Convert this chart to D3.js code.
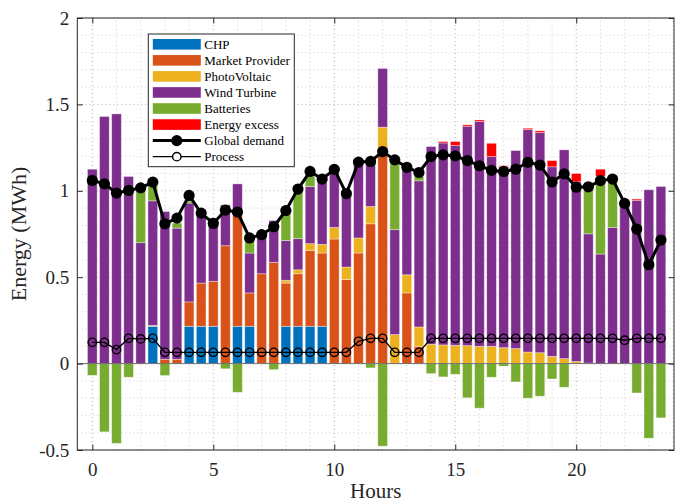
<!DOCTYPE html>
<html>
<head>
<meta charset="utf-8">
<script src="https://cdn.jsdelivr.net/npm/d3@7"></script>
<style>
  body { margin: 0; background: #fff; }
  svg { display: block; font-family: "Liberation Serif", "Times New Roman", serif; }
</style>
</head>
<body>
<svg id="chart" width="675" height="504"></svg>
<script>
// half-hour time steps
const hours = [0, 0.5, 1, 1.5, 2, 2.5, 3, 3.5, 4, 4.5, 5, 5.5, 6, 6.5, 7, 7.5,
  8, 8.5, 9, 9.5, 10, 10.5, 11, 11.5, 12, 12.5, 13, 13.5, 14, 14.5, 15, 15.5,
  16, 16.5, 17, 17.5, 18, 18.5, 19, 19.5, 20, 20.5, 21, 21.5, 22, 22.5, 23, 23.5];

// stacked components (MWh)
const chp = [0, 0, 0, 0, 0, 0.216, 0, 0, 0.216, 0.216, 0.216, 0, 0.216, 0.216, 0, 0,
  0.216, 0.216, 0.216, 0.216, 0, 0, 0, 0, 0, 0, 0, 0, 0, 0, 0, 0,
  0, 0, 0, 0, 0, 0, 0, 0, 0, 0, 0, 0, 0, 0, 0, 0];
const market = [0, 0, 0, 0, 0, 0, 0.025, 0.025, 0.141, 0.25, 0.26, 0.682, 0.645, 0.193, 0.52, 0.586,
  0.25, 0.304, 0.439, 0.424, 0.721, 0.486, 0.64, 0.809, 1.208, 0, 0.409, 0.1, 0, 0, 0, 0,
  0, 0, 0, 0, 0, 0, 0, 0, 0, 0, 0, 0, 0, 0, 0, 0];
const pv = [0, 0, 0, 0, 0, 0.005, 0, 0, 0, 0, 0, 0, 0, 0, 0, 0,
  0.016, 0.023, 0.039, 0.05, 0.067, 0.073, 0.087, 0.1, 0.16, 0.168, 0.105, 0.112, 0.112, 0.108, 0.106, 0.104,
  0.1, 0.1, 0.092, 0.087, 0.067, 0.063, 0.042, 0.029, 0.012, 0.003, 0, 0, 0, 0, 0, 0];
const wind = [1.125, 1.43, 1.445, 1.083, 0.70, 0.721, 0.855, 0.759, 0.572, 0.414, 0.366, 0.237, 0.179, 0.231, 0.22, 0.242,
  0.231, 0.18, 0.331, 0.38, 0.353, 0.431, 0.452, 0.27, 0.34, 0.607, 0.626, 0.846, 1.144, 1.169, 1.156, 1.27,
  1.301, 1.098, 1.048, 1.146, 1.287, 1.274, 1.097, 1.208, 1.04, 0.748, 0.634, 0.788, 0.94, 0.944, 1.006, 1.025];
const battOut = [0, 0, 0, 0, 0.33, 0.088, 0, 0.029, 0.011, 0, 0, 0, 0, 0.087, 0, 0,
  0.157, 0.267, 0.06, 0, 0, 0, 0, 0, 0, 0.385, 0, 0.025, 0, 0, 0, 0,
  0, 0, 0, 0, 0, 0, 0, 0, 0, 0.28, 0.449, 0.266, 0, 0, 0, 0];
const excess = [0, 0, 0, 0, 0, 0, 0, 0, 0, 0, 0, 0, 0, 0, 0, 0,
  0, 0, 0, 0, 0, 0, 0, 0, 0, 0, 0, 0, 0, 0.008, 0.023, 0.008,
  0.009, 0.077, 0.005, 0, 0.008, 0.01, 0.036, 0, 0.048, 0, 0.042, 0, 0, 0.008, 0, 0];
// battery charging (below zero)
const battIn = [-0.068, -0.395, -0.462, -0.079, 0, 0, -0.069, 0, 0, 0, 0, -0.03, -0.166, 0, 0, -0.035,
  0, 0, 0, 0, 0, 0, 0, -0.025, -0.478, 0, 0, 0, -0.058, -0.077, -0.062, -0.198,
  -0.258, -0.079, -0.015, -0.106, -0.2, -0.189, -0.089, -0.137, 0, 0, 0, 0, 0, -0.17, -0.432, -0.314];

// lines
const demand = [1.06, 1.04, 0.987, 1.002, 1.017, 1.05, 0.809, 0.842, 0.973, 0.871, 0.811, 0.888, 0.877, 0.727, 0.746, 0.792,
  0.886, 1.01, 1.112, 1.068, 1.124, 0.984, 1.166, 1.17, 1.227, 1.179, 1.136, 1.106, 1.198, 1.208, 1.202, 1.175,
  1.145, 1.118, 1.112, 1.125, 1.165, 1.149, 1.051, 1.098, 1.021, 1.023, 1.059, 1.068, 0.927, 0.779, 0.572, 0.715];
const processLoad = [0.123, 0.123, 0.081, 0.146, 0.143, 0.146, 0.065, 0.065, 0.065, 0.065, 0.065, 0.065, 0.065, 0.065, 0.065, 0.065,
  0.065, 0.065, 0.065, 0.065, 0.065, 0.065, 0.129, 0.146, 0.146, 0.065, 0.065, 0.065, 0.146, 0.146, 0.146, 0.146,
  0.146, 0.146, 0.146, 0.146, 0.146, 0.146, 0.146, 0.146, 0.146, 0.146, 0.146, 0.146, 0.135, 0.146, 0.146, 0.146];

const seriesKeys = ['chp', 'market', 'pv', 'wind', 'battOut', 'excess'];
const seriesNames = ['CHP', 'Market Provider', 'PhotoVoltaic', 'Wind Turbine', 'Batteries', 'Energy excess'];
const xTicks = [0, 5, 10, 15, 20];
const yTicks = [-0.5, 0, 0.5, 1, 1.5, 2];

const colors = {
  chp: '#0072BD',
  market: '#D95319',
  pv: '#EDB120',
  wind: '#7E2F8E',
  battOut: '#77AC30',
  excess: '#FF0000'
};

const svg = d3.select('#chart');
const margin = { top: 18, right: 1, bottom: 54, left: 77.3 };
const W = 675, H = 504;

const x = d3.scaleLinear().domain([-0.62, 24.04]).range([margin.left, W - margin.right]);
const y = d3.scaleLinear().domain([-0.5, 2]).range([H - margin.bottom, margin.top]);
const barW = x(0.4) - x(0);

// grid (minor then major), dotted
const grid = svg.append('g').attr('class', 'grid');
d3.range(0, 25, 1).forEach(v => {
  grid.append('line')
    .attr('x1', x(v)).attr('x2', x(v))
    .attr('y1', y(-0.5)).attr('y2', y(2))
    .attr('stroke', xTicks.includes(v) ? '#b0b0b0' : '#cfcfcf')
    .attr('stroke-width', 1)
    .attr('stroke-dasharray', '1,3');
});
d3.range(-5, 21, 1).map(v => v / 10).forEach(v => {
  grid.append('line')
    .attr('x1', x.range()[0]).attr('x2', x.range()[1])
    .attr('y1', y(v)).attr('y2', y(v))
    .attr('stroke', yTicks.includes(v) ? '#b0b0b0' : '#cfcfcf')
    .attr('stroke-width', 1)
    .attr('stroke-dasharray', '1,3');
});

// stacked positive bars
const rows = hours.map((h, i) => ({
  h,
  chp: chp[i], market: market[i], pv: pv[i], wind: wind[i],
  battOut: battOut[i], excess: excess[i]
}));
const stacked = d3.stack().keys(seriesKeys)(rows);

const bars = svg.append('g').attr('class', 'bars');
stacked.forEach(layer => {
  bars.append('g')
    .attr('fill', colors[layer.key])
    .selectAll('rect')
    .data(layer.filter(d => d[1] - d[0] > 0))
    .join('rect')
    .attr('x', d => x(d.data.h) - barW / 2)
    .attr('width', barW)
    .attr('y', d => y(d[1]))
    .attr('height', d => y(d[0]) - y(d[1]))
    .attr('stroke', '#fff')
    .attr('stroke-opacity', 0.45)
    .attr('stroke-width', 0.8);
});

// battery charging below zero
bars.append('g')
  .attr('fill', colors.battOut)
  .selectAll('rect')
  .data(hours.map((h, i) => ({ h, v: battIn[i] })).filter(d => d.v < 0))
  .join('rect')
  .attr('x', d => x(d.h) - barW / 2)
  .attr('width', barW)
  .attr('y', y(0))
  .attr('height', d => y(d.v) - y(0))
  .attr('stroke', '#fff')
  .attr('stroke-opacity', 0.45)
  .attr('stroke-width', 0.8);

// bar baseline
svg.append('line')
  .attr('x1', x.range()[0]).attr('x2', x.range()[1])
  .attr('y1', y(0)).attr('y2', y(0))
  .attr('stroke', '#6e6e6e')
  .attr('stroke-width', 1);

// global demand line
const line = d3.line().x((d, i) => x(hours[i])).y(d => y(d));
svg.append('path')
  .datum(demand)
  .attr('d', line)
  .attr('fill', 'none')
  .attr('stroke', '#000')
  .attr('stroke-width', 3)
  .attr('stroke-linejoin', 'round');
svg.append('g').selectAll('circle')
  .data(demand)
  .join('circle')
  .attr('cx', (d, i) => x(hours[i]))
  .attr('cy', d => y(d))
  .attr('r', 5.6)
  .attr('fill', '#000');

// process line
svg.append('path')
  .datum(processLoad)
  .attr('d', line)
  .attr('fill', 'none')
  .attr('stroke', '#000')
  .attr('stroke-width', 1.4);
svg.append('g').selectAll('circle')
  .data(processLoad)
  .join('circle')
  .attr('cx', (d, i) => x(hours[i]))
  .attr('cy', d => y(d))
  .attr('r', 4.2)
  .attr('fill', 'none')
  .attr('stroke', '#000')
  .attr('stroke-width', 1.4);

// axes
const axisColor = '#262626';
const xAxis = svg.append('g')
  .attr('transform', `translate(0, ${y(-0.5)})`)
  .call(d3.axisBottom(x).tickValues(xTicks).tickSize(-5.5).tickPadding(13).tickFormat(d3.format('d')));
const yAxis = svg.append('g')
  .attr('transform', `translate(${x.range()[0]}, 0)`)
  .call(d3.axisLeft(y).tickValues(yTicks).tickSize(-5.5).tickPadding(8).tickFormat(d => d));
svg.append('g')
  .attr('transform', `translate(0, ${y(2)})`)
  .call(d3.axisTop(x).tickValues(xTicks).tickSize(-5.5).tickFormat(''));
svg.append('g')
  .attr('transform', `translate(${x.range()[1]}, 0)`)
  .call(d3.axisRight(y).tickValues(yTicks).tickSize(-5.5).tickFormat(''));

svg.selectAll('.domain').remove();
svg.selectAll('.tick line').attr('stroke', axisColor);
[xAxis, yAxis].forEach(g => g.selectAll('text')
  .attr('fill', axisColor)
  .style('font-family', '"Liberation Serif", serif')
  .style('font-size', '19px'));

svg.append('rect')
  .attr('x', x.range()[0]).attr('y', y(2))
  .attr('width', x.range()[1] - x.range()[0])
  .attr('height', y(-0.5) - y(2))
  .attr('fill', 'none')
  .attr('stroke', axisColor)
  .attr('stroke-width', 1);

// axis titles
svg.append('text')
  .attr('x', (x.range()[0] + x.range()[1]) / 2)
  .attr('y', 498)
  .attr('text-anchor', 'middle')
  .attr('fill', axisColor)
  .style('font-size', '21px')
  .text('Hours');
svg.append('text')
  .attr('transform', `translate(26, ${(y(2) + y(-0.5)) / 2}) rotate(-90)`)
  .attr('text-anchor', 'middle')
  .attr('fill', axisColor)
  .style('font-size', '22px')
  .text('Energy (MWh)');

// legend
const legend = svg.append('g').attr('transform', 'translate(148.3, 34)');
legend.append('rect')
  .attr('width', 146).attr('height', 132.7)
  .attr('fill', '#fff')
  .attr('stroke', axisColor)
  .attr('stroke-width', 1);
const rowH = 16.05;
seriesKeys.forEach((k, i) => {
  const cy = 10.3 + i * rowH;
  legend.append('rect')
    .attr('x', 4.5).attr('y', cy - 5.3)
    .attr('width', 48).attr('height', 10.6)
    .attr('fill', colors[k]);
  legend.append('text')
    .attr('x', 56).attr('y', cy)
    .attr('dy', '0.35em')
    .attr('fill', '#000')
    .style('font-size', '13px')
    .text(seriesNames[i]);
});
const gdY = 10.3 + 6 * rowH;
legend.append('line')
  .attr('x1', 4.5).attr('x2', 52.5).attr('y1', gdY).attr('y2', gdY)
  .attr('stroke', '#000').attr('stroke-width', 3);
legend.append('circle').attr('cx', 28.5).attr('cy', gdY).attr('r', 5.6).attr('fill', '#000');
legend.append('text')
  .attr('x', 56).attr('y', gdY).attr('dy', '0.35em')
  .style('font-size', '13px').text('Global demand');
const prY = 10.3 + 7 * rowH;
legend.append('line')
  .attr('x1', 4.5).attr('x2', 52.5).attr('y1', prY).attr('y2', prY)
  .attr('stroke', '#000').attr('stroke-width', 1.4);
legend.append('circle').attr('cx', 28.5).attr('cy', prY).attr('r', 4.2)
  .attr('fill', '#fff').attr('stroke', '#000').attr('stroke-width', 1.4);
legend.append('text')
  .attr('x', 56).attr('y', prY).attr('dy', '0.35em')
  .style('font-size', '13px').text('Process');
</script>
</body>
</html>
